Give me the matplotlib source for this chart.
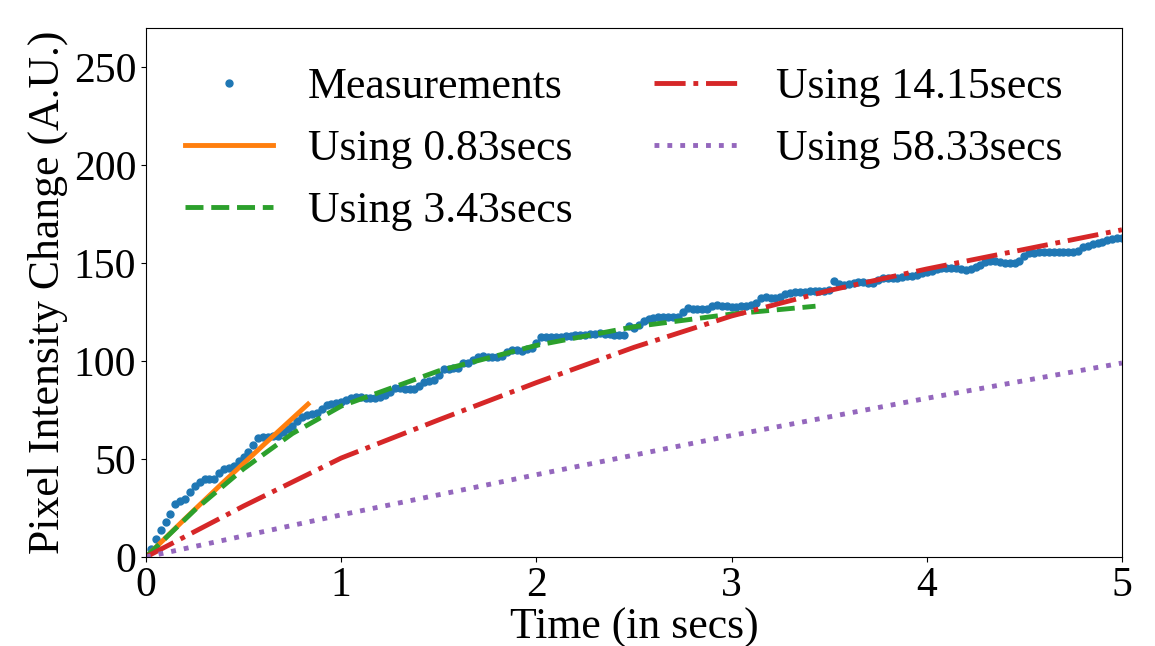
import matplotlib.pyplot as plt
import numpy as np

plt.rcParams['font.family'] = ['Liberation Serif', 'DejaVu Serif']
plt.rcParams['font.size'] = 31.5

# measured pixel intensity change, sampled every 0.025 s from 0 to 5 s
meas = [
    0, 4, 9, 14, 18, 22, 27, 28.5, 29.5, 33,
    36, 38.5, 40, 39.8, 40, 43, 45, 45.5, 46.5, 49,
    51, 53.5, 57, 60.5, 61, 61, 61.5, 62, 64, 65.5,
    67, 69.5, 71.5, 72.5, 73, 73.3, 75.5, 77.5, 78, 78.5,
    79.2, 80, 81, 81.8, 81.5, 81, 81, 81, 81.5, 82.7,
    84, 86, 86, 85.8, 85.6, 85.6, 87.5, 89.5, 90, 90.3,
    93, 95.8, 96, 96.2, 96.3, 98.8, 99, 100.5, 102, 102.5,
    102.3, 102, 101.9, 102.5, 104.5, 105.6, 105.5, 105.3, 106, 106.5,
    109, 112.4, 112.4, 112.4, 112.4, 112.4, 112.6, 112.8, 113.1, 113.3,
    113.5, 113.8, 114, 114.1, 114, 113.8, 113.5, 113.3, 113.5, 118,
    116.7, 118.5, 120.5, 121.3, 122, 122.3, 122.3, 122.3, 122.3, 122.5,
    125, 126.9, 126.8, 126.6, 126.5, 126.4, 128.2, 128.6, 128.3, 128,
    127.8, 127.7, 127.9, 128.2, 128.5, 129.5, 132, 132.5, 132.3, 132,
    132.5, 134, 134.9, 135, 135.2, 135.4, 135.5, 135.6, 135.6, 135.9,
    136.2, 140.8, 139.5, 138.8, 139.2, 139.8, 140.3, 140.5, 140, 139.6,
    141.5, 142.2, 142.2, 142.2, 142.3, 142.8, 143.2, 143.6, 143.9, 144.8,
    145.6, 146.2, 146.8, 147.3, 147.3, 147.3, 147.3, 147, 146.4, 147,
    148, 149, 150.7, 151.3, 151.3, 150.5, 149.8, 149.8, 149.8, 151.3,
    153.5, 155, 155.3, 155.5, 155.8, 155.8, 155.8, 155.8, 155.8, 155.8,
    155.8, 156, 158.3, 158.8, 159.5, 160, 161, 161.7, 162.4, 162.6,
    162.6,
]
t_meas = np.linspace(0, 5, len(meas))

# fitted curves
t_083 = [0, 0.2, 0.4, 0.6, 0.83]
y_083 = [0, 19.5, 38.5, 57, 78]

t_343 = [0, 0.25, 0.5, 0.75, 1, 1.5, 2, 2.5, 3, 3.43]
y_343 = [0, 24, 45, 63, 77, 95, 108, 117.5, 124, 128]

t_1415 = [0, 0.5, 1, 1.5, 2, 2.5, 3, 3.5, 4, 4.5, 5]
y_1415 = [0, 26, 50.5, 70, 89, 107, 123, 136, 147, 157, 167]

t_5833 = [0, 1, 2, 3, 4, 5]
y_5833 = [0, 21.5, 42, 62, 81, 99]

fig = plt.figure(figsize=(11.55, 6.46), dpi=100)
ax = fig.add_axes([0.1264, 0.1378, 0.845, 0.8189])

ax.plot(t_meas, meas, '.', color='tab:blue', markersize=10, label='Measurements')
ax.plot(t_083, y_083, '-', color='tab:orange', lw=3.5, label='Using 0.83secs')
ax.plot(t_343, y_343, '--', color='tab:green', lw=3.5, label='Using 3.43secs')
ax.plot(t_1415, y_1415, '-.', color='tab:red', lw=3.5, label='Using 14.15secs')
ax.plot(t_5833, y_5833, ':', color='tab:purple', lw=3.5, label='Using 58.33secs')

ax.set_xlim(0, 5)
ax.set_ylim(0, 270)
ax.set_yticks([0, 50, 100, 150, 200, 250])
ax.tick_params(labelsize=30)
ax.set_xlabel('Time (in secs)', labelpad=2)
ax.set_ylabel('Pixel Intensity Change (A.U.)', labelpad=4)
ax.legend(ncol=2, frameon=False, loc='upper left', handlelength=2.0,
          columnspacing=1.85)

fig.savefig('out.png', dpi=100)
